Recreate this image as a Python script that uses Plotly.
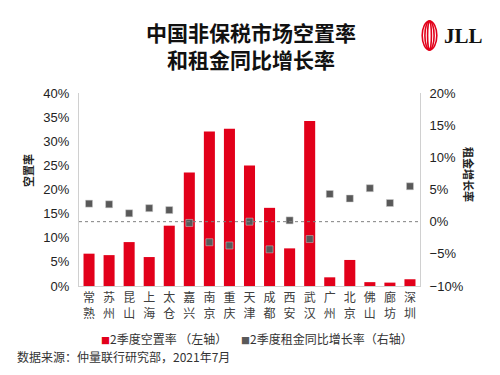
import plotly.graph_objects as go

cities = ["常熟", "苏州", "昆山", "上海", "太仓", "嘉兴", "南京", "重庆", "天津",
          "成都", "西安", "武汉", "广州", "北京", "佛山", "廊坊", "深圳"]
vacancy = [0.067, 0.064, 0.091, 0.060, 0.125, 0.235, 0.320, 0.326, 0.250,
           0.162, 0.078, 0.342, 0.018, 0.054, 0.008, 0.007, 0.014]
rent_growth = [0.028, 0.027, 0.013, 0.021, 0.018, -0.002, -0.032, -0.037, 0.000,
               -0.043, 0.002, -0.027, 0.043, 0.036, 0.052, 0.029, 0.055]
left_ticks = [0, 0.05, 0.10, 0.15, 0.20, 0.25, 0.30, 0.35, 0.40]
right_ticks = [-0.10, -0.05, 0, 0.05, 0.10, 0.15, 0.20]

title_lines = ["中国非保税市场空置率", "和租金同比增长率"]
legend_names = ["2季度空置率 （左轴）", "2季度租金同比增长率（右轴）"]
source_text = "数据来源：仲量联行研究部，2021年7月"

RED = "#e2001a"
GREY = "#595959"
CJK = "Noto Sans CJK SC"
LAT = "Liberation Sans, Arial"

# plot area in pixels
X0, X1, YT, YB = 79, 420, 93, 286


def px(x):
    return (x - X0) / (X1 - X0)


def py(y):
    return (YB - y) / (YB - YT)


fig = go.Figure()
fig.add_trace(go.Bar(x=cities, y=vacancy, marker=dict(color=RED, line=dict(width=0)),
                     name=legend_names[0], yaxis="y"))
fig.add_trace(go.Scatter(x=cities, y=rent_growth, mode="markers", yaxis="y2",
                         marker=dict(symbol="square", size=7, color=GREY,
                                     line=dict(width=0.5, color="#cccccc")),
                         name=legend_names[1]))
# invisible helper trace so the second-line label axis knows the categories
fig.add_trace(go.Scatter(x=cities, y=vacancy, xaxis="x2", yaxis="y", mode="markers",
                         marker=dict(opacity=0), hoverinfo="skip", showlegend=False))

annotations = []
# title (two lines)
annotations.append(dict(text="<b>" + "<br>".join(title_lines) + "</b>", x=px(251), y=py(45.5),
                        xref="paper", yref="paper", showarrow=False,
                        font=dict(family=CJK, size=21, color="#111111"),
                        xanchor="center", yanchor="middle"))
# axis titles
annotations.append(dict(text="<b>空置率</b>", x=px(18), y=py(171), xref="paper", yref="paper",
                        showarrow=False, textangle=-90,
                        font=dict(family=CJK, size=11, color="#222222")))
annotations.append(dict(text="<b>租金增长率</b>", x=px(479), y=py(174), xref="paper", yref="paper",
                        showarrow=False, textangle=90,
                        font=dict(family=CJK, size=11, color="#222222")))
# legend
annotations.append(dict(text='<span style="color:%s;font-size:9px">■</span>%s' % (RED, legend_names[0]),
                        x=px(99), y=py(338), xref="paper", yref="paper", showarrow=False,
                        xanchor="left", yanchor="middle",
                        font=dict(family=CJK, size=12, color="#333333")))
annotations.append(dict(text='<span style="color:%s;font-size:9px">■</span>%s' % (GREY, legend_names[1]),
                        x=px(239), y=py(338), xref="paper", yref="paper", showarrow=False,
                        xanchor="left", yanchor="middle",
                        font=dict(family=CJK, size=12, color="#333333")))
# source
annotations.append(dict(text=source_text, x=px(15), y=py(356), xref="paper", yref="paper",
                        showarrow=False, xanchor="left", yanchor="middle",
                        font=dict(family=CJK, size=12, color="#333333")))
# JLL logo text
annotations.append(dict(text="<b>JLL</b>", x=px(442), y=py(36), xref="paper", yref="paper",
                        showarrow=False, xanchor="left", yanchor="middle",
                        font=dict(family="Liberation Serif", size=21, color="#111111")))

shapes = []
# zero line for right axis
shapes.append(dict(type="line", xref="paper", yref="y2", x0=0, x1=1, y0=0, y1=0,
                   line=dict(color="#808080", width=1, dash="dot")))
# JLL rings
cx, cy = 429.5, 35.5
for hw in [7.3, 4.6, 1.9]:
    shapes.append(dict(type="circle", xref="paper", yref="paper",
                       x0=px(cx - hw), x1=px(cx + hw), y0=py(cy + 14.5), y1=py(cy - 14.5),
                       line=dict(color=RED, width=1.6)))

xr = [-0.5, len(cities) - 0.5]
fig.update_layout(
    width=500, height=375,
    margin=dict(l=X0, r=500 - X1, t=YT, b=375 - YB, pad=0),
    paper_bgcolor="white", plot_bgcolor="white",
    showlegend=False,
    bargap=0.45,
    xaxis=dict(type="category", range=xr, tickvals=cities, ticktext=[c[0] for c in cities],
               tickangle=0, ticklabelstandoff=1,
               tickfont=dict(family=CJK, size=12, color="#404040"),
               showline=True, linecolor="#d0d0d0", linewidth=1,
               ticks="", showgrid=False, zeroline=False),
    xaxis2=dict(type="category", range=xr, overlaying="x", anchor="y", side="bottom",
                tickvals=cities, ticktext=[c[1] for c in cities],
                tickangle=0, ticklabelstandoff=19,
                tickfont=dict(family=CJK, size=12, color="#404040"),
                showline=False, ticks="", showgrid=False, zeroline=False),
    yaxis=dict(range=[0, 0.4], tickvals=left_ticks, tickformat=".0%", showgrid=False,
               zeroline=False, showline=True, linecolor="#d0d0d0", linewidth=1,
               ticks="", ticklabelstandoff=6,
               tickfont=dict(family=LAT, size=13, color="#222222")),
    yaxis2=dict(range=[-0.1, 0.2], tickvals=right_ticks, tickformat=".0%", overlaying="y",
                side="right", showgrid=False, zeroline=False, showline=True,
                linecolor="#d0d0d0", linewidth=1, ticks="", ticklabelstandoff=6,
                tickfont=dict(family=LAT, size=13, color="#222222")),
    annotations=annotations,
    shapes=shapes,
)

fig.write_html("out.html", config={"displayModeBar": False},
               post_script="document.body.style.margin='0';document.body.style.overflow='hidden';")
